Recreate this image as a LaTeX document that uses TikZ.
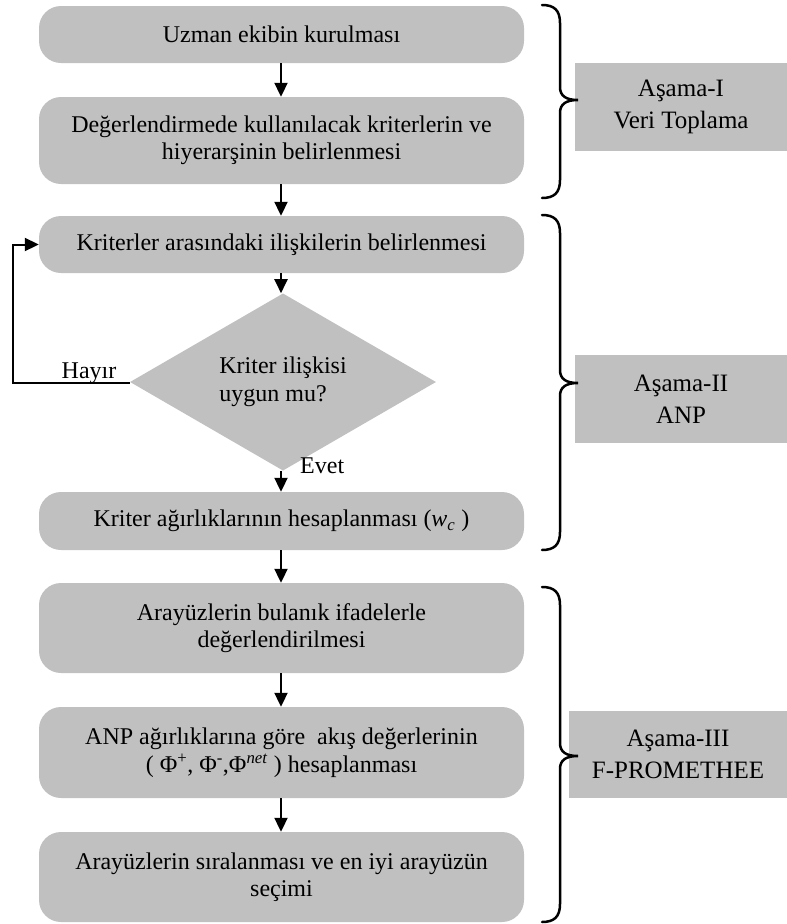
\documentclass[tikz,border=0pt]{standalone}
\usepackage{fontspec}
\setmainfont{Liberation Serif}
\usetikzlibrary{arrows.meta,shapes.geometric}
\definecolor{boxgray}{RGB}{192,192,192}
\begin{document}
\begin{tikzpicture}[x=1pt,y=1pt,
  proc/.style={rectangle, rounded corners=22pt, fill=boxgray, draw=none,
    minimum width=485pt, align=center, inner sep=0pt,
    font=\fontsize{24}{27.5}\selectfont},
  decis/.style={diamond, fill=boxgray, draw=none, align=left, inner sep=0pt,
    minimum width=306pt, minimum height=148pt,
    font=\fontsize{24}{28}\selectfont},
  stagebox/.style={rectangle, fill=boxgray, draw=none, align=center, inner sep=0pt,
    minimum height=88pt, font=\fontsize{25}{32}\selectfont},
  lbl/.style={inner sep=0pt, font=\fontsize{24}{28}\selectfont},
  arr/.style={line width=2pt, miter limit=10, -{Triangle[length=14pt,width=13pt]}},
  brc/.style={line width=2.5pt, line cap=round}
]
\useasboundingbox (0,0) rectangle (787,-924);

% main column
\node[proc, minimum height=57pt] (b1) at (281.5,-34.5) {Uzman ekibin kurulması};
\node[proc, minimum height=87pt] (b2) at (281.5,-140.5) {Değerlendirmede kullanılacak kriterlerin ve\\hiyerarşinin belirlenmesi};
\node[proc, minimum height=57pt] (b3) at (281.5,-244.5) {Kriterler arasındaki ilişkilerin belirlenmesi};
\node[decis] (d) at (283,-382) {Kriter ilişkisi\\uygun mu?};
\node[proc, minimum height=58pt] (b4) at (281.5,-521) {Kriter ağırlıklarının hesaplanması (\textit{w}\textsubscript{\textit{c}} )};
\node[proc, minimum height=90pt] (b5) at (281.5,-628) {Arayüzlerin bulanık ifadelerle\\değerlendirilmesi};
\node[proc, minimum height=91pt] (b6) at (281.5,-752.5) {ANP ağırlıklarına göre \ akış değerlerinin\\( Φ\textsuperscript{+}, Φ\textsuperscript{-},Φ\textsuperscript{\textit{net}} ) hesaplanması};
\node[proc, minimum height=90pt] (b7) at (281.5,-877) {Arayüzlerin sıralanması ve en iyi arayüzün\\seçimi};

% labels
\node[lbl, anchor=base] (hay) at (89,-378) {Hayır};
\node[lbl, anchor=base west] (evt) at (300,-473) {Evet};

% arrows
\draw[arr] (b1.south -| 281,0) -- (b2.north -| 281,0);
\draw[arr] (b2.south -| 281,0) -- (b3.north -| 281,0);
\draw[arr] (b3.south -| 281,0) -- (d.north -| 281,0);
\draw[arr] (d.south -| 281,0) -- (b4.north -| 281,0);
\draw[arr] (b4.south -| 281,0) -- (b5.north -| 281,0);
\draw[arr] (b5.south -| 281,0) -- (b6.north -| 281,0);
\draw[arr] (b6.south -| 281,0) -- (b7.north -| 281,0);
\coordinate (lp) at (13,-383);
\draw[arr] (d.west |- lp) -- (lp) |- (b3.west);

% stage boxes
\node[stagebox, minimum width=212pt] (s1) at (681,-107) {Aşama-I\\Veri Toplama};
\node[stagebox, minimum width=212pt] (s2) at (681,-399) {Aşama-II\\ANP};
\node[stagebox, minimum width=218pt, minimum height=87pt] (s3) at (678,-754.5) {Aşama-III\\F-PROMETHEE};

% braces
\draw[brc] (542,-5) .. controls (554,-5) and (560,-10) .. (560,-23) -- (560,-87)
  .. controls (560,-96) and (566,-100) .. (578,-100)
  .. controls (566,-100) and (560,-104) .. (560,-113) -- (560,-180)
  .. controls (560,-193) and (554,-198) .. (542,-198);
\draw[brc] (542,-215) .. controls (554,-215) and (560,-220) .. (560,-233) -- (560,-370)
  .. controls (560,-379) and (566,-383) .. (578,-383)
  .. controls (566,-383) and (560,-387) .. (560,-396) -- (560,-532)
  .. controls (560,-545) and (554,-550) .. (542,-550);
\draw[brc] (542,-587) .. controls (554,-587) and (560,-592) .. (560,-605) -- (560,-743)
  .. controls (560,-752) and (566,-756) .. (578,-756)
  .. controls (566,-756) and (560,-760) .. (560,-769) -- (560,-904)
  .. controls (560,-917) and (554,-922) .. (542,-922);
\end{tikzpicture}
\end{document}
